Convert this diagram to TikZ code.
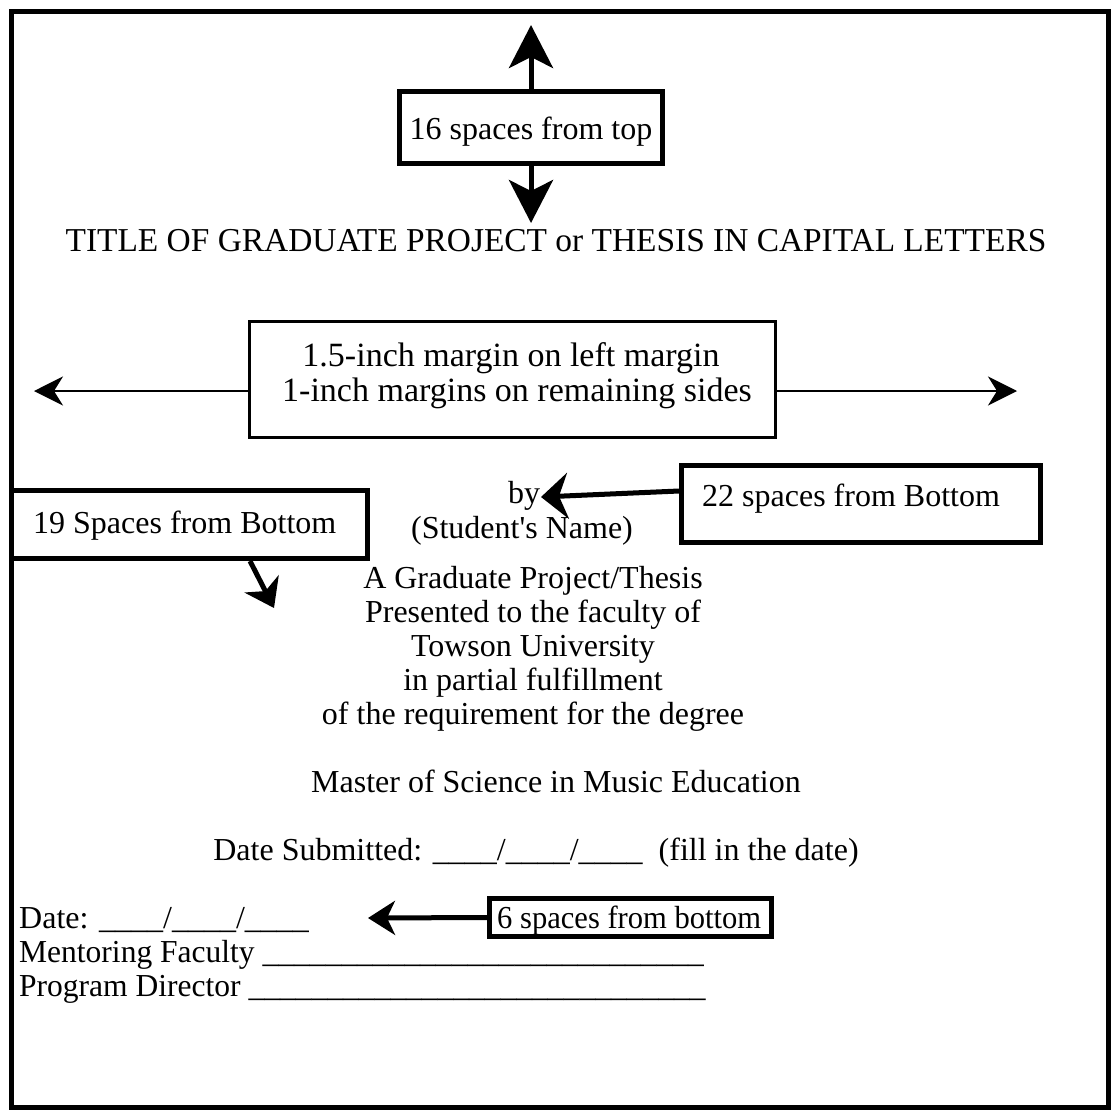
\documentclass[tikz,border=0pt]{standalone}
\usepackage{fontspec}
\setmainfont{Liberation Serif}
\usetikzlibrary{arrows.meta}
\begin{document}
\begin{tikzpicture}[x=1pt,y=-1pt,
  txt/.style={inner sep=0pt, font=\fontsize{32}{34}\selectfont, anchor=base},
  ltxt/.style={txt, anchor=base west},
  box/.style={draw, line width=5pt, inner sep=0pt, fill=white},
  bigarrow/.style={line width=5pt, -{Stealth[length=43pt, width=44pt, inset=11pt]}},
  thinarrow/.style={line width=2pt, -{Stealth[length=29pt, width=29pt, inset=9pt]}},
  midarrow/.style={line width=5pt, -{Stealth[length=27pt, width=46pt, inset=9pt]}}
]
\useasboundingbox (0,0) rectangle (1115,1111);
\fill[white] (0,0) rectangle (1115,1111);
% page frame
\node[draw, line width=5pt, inner sep=0pt, minimum width=1097pt, minimum height=1096pt] (frame) at (560,559) {};

% 16 spaces from top
\node[box, minimum width=263pt, minimum height=72pt] (b16) at (531,127.5) {};
\node[txt] (t16) at (531,139) {16 spaces from top};
\coordinate (topTip) at (531,25);
\coordinate (downTip) at (531,223);
\draw[bigarrow] (b16.north) -- (topTip);
\draw[bigarrow] (b16.south) -- (downTip);

\node[txt, font=\fontsize{33.4}{36}\selectfont] (title) at (556,251) {TITLE OF GRADUATE PROJECT or THESIS IN CAPITAL LETTERS};

% margin box
\node[draw, line width=3pt, inner sep=0pt, minimum width=526pt, minimum height=116pt] (bm) at (512.5,379.5) {};
\node[txt, font=\fontsize{34}{36}\selectfont] (m1) at (511,366) {1.5-inch margin on left margin};
\node[txt, font=\fontsize{34}{36}\selectfont] (m2) at (517,401) {1-inch margins on remaining sides};
\coordinate (lTip) at (34,391);
\coordinate (rTip) at (1017,391);
\draw[thinarrow] (bm.west |- lTip) -- (lTip);
\draw[thinarrow] (bm.east |- rTip) -- (rTip);

% 22 spaces from Bottom
\node[box, minimum width=359pt, minimum height=77pt] (b22) at (861,504) {};
\node[ltxt] (t22) at (702,506) {22 spaces from Bottom};
\node[txt] (by) at (524,503) {by};
\node[txt] (sname) at (522,538) {(Student\textquotesingle s Name)};
\coordinate (byTip) at (541,497);
\draw[midarrow] ([yshift=13pt]b22.west) -- (byTip);

% 19 Spaces from Bottom
\node[box, minimum width=356pt, minimum height=68pt] (b19) at (189.5,524.5) {};
\node[ltxt] (t19) at (33,533) {19 Spaces from Bottom};
\coordinate (tip19) at (274,608);
\draw[line width=5pt, -{Stealth[length=27pt, width=38pt, inset=8pt]}] ([xshift=60.5pt]b19.south) -- (tip19);

% central block
\node[txt] (l1) at (533,588) {A Graduate Project/Thesis};
\node[txt] (l2) at (533,622) {Presented to the faculty of};
\node[txt] (l3) at (533,656) {Towson University};
\node[txt] (l4) at (533,690) {in partial fulfillment};
\node[txt] (l5) at (533,724) {of the requirement for the degree};
\node[txt] (l6) at (556,792) {Master of Science in Music Education};
\node[txt] (l7) at (536,860) {Date Submitted: \_\_\_\_/\_\_\_\_/\_\_\_\_~ (fill in the date)};

% bottom lines
\node[ltxt] (d1) at (19,928) {Date: \_\_\_\_/\_\_\_\_/\_\_\_\_};
\node[ltxt] (d2) at (19,962) {\scalebox{0.985}[1]{Mentoring Faculty \_\_\_\_\_\_\_\_\_\_\_\_\_\_\_\_\_\_\_\_\_\_\_\_\_\_\_\_}};
\node[ltxt] (d3) at (19,996) {\scalebox{0.985}[1]{Program Director \_\_\_\_\_\_\_\_\_\_\_\_\_\_\_\_\_\_\_\_\_\_\_\_\_\_\_\_\_}};

% 6 spaces from bottom
\node[box, minimum width=282pt, minimum height=38pt] (b6) at (630.5,917.5) {};
\node[ltxt] (t6) at (497,928) {\scalebox{0.955}[1]{6 spaces from bottom}};
\coordinate (tip6) at (368,918);
\draw[line width=5pt, -{Stealth[length=27pt, width=34pt, inset=8pt]}] (b6.west) -- (tip6);
\end{tikzpicture}
\end{document}
